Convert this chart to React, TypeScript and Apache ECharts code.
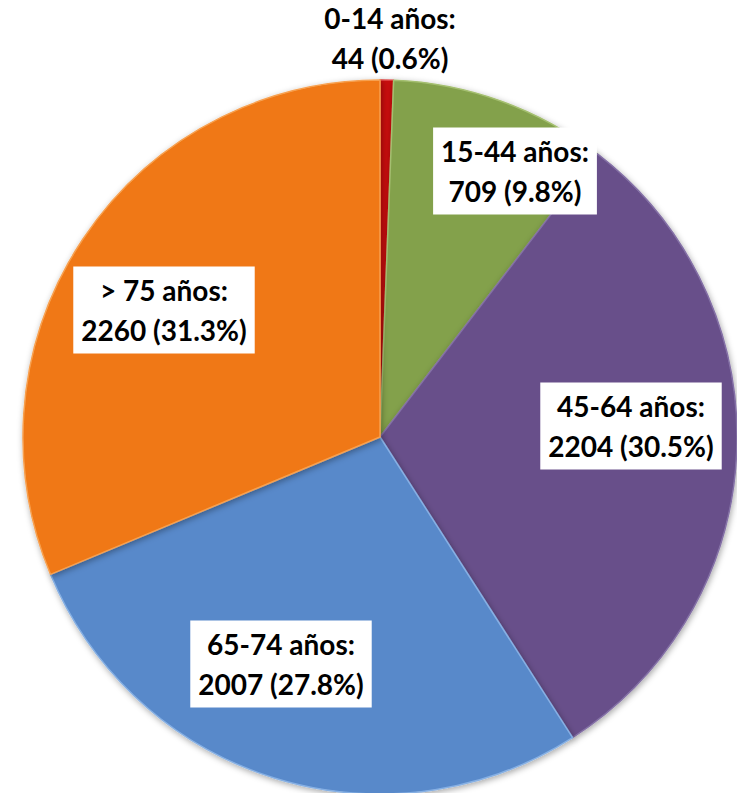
import React, { useEffect, useRef } from "react";
import * as echarts from "echarts";

// Defunciones por grupo de edad
const groups = ["0-14 años", "15-44 años", "45-64 años", "65-74 años", "> 75 años"];
const counts = [44, 709, 2204, 2007, 2260];
const percents = [0.6, 9.8, 30.5, 27.8, 31.3];
const sliceColors = ["#C80A0A", "#83A14B", "#68508A", "#5889CA", "#F07812"];
const edgeColors = ["#E04040", "#A4BF70", "#8470A6", "#86B0E4", "#F7A050"];

// Label anchor points (pixels) for each slice's callout box
const labelAnchors: [number, number][] = [
  [390, 38],
  [515, 171],
  [631, 426],
  [281, 664],
  [164, 310],
];

export default function App() {
  const ref = useRef<HTMLDivElement>(null);

  useEffect(() => {
    if (!ref.current) return;
    const chart = echarts.init(ref.current, null, { renderer: "svg" });
    const data = groups.map((name, i) => ({
      name,
      value: counts[i],
      itemStyle: {
        color: sliceColors[i],
        borderColor: edgeColors[i],
      },
      label: i === 0 ? { backgroundColor: "transparent" } : {},
    }));
    chart.setOption({
      animation: false,
      backgroundColor: "#ffffff",
      series: [
        {
          type: "pie",
          center: [380, 437],
          radius: 357,
          startAngle: 90,
          clockwise: true,
          avoidLabelOverlap: false,
          data,
          itemStyle: {
            borderWidth: 1.5,
            shadowColor: "rgba(0,0,0,0.35)",
            shadowBlur: 6,
            shadowOffsetX: 1,
            shadowOffsetY: 2,
          },
          label: {
            show: true,
            position: "inside",
            formatter: (p: any) =>
              `${groups[p.dataIndex]}:\n${counts[p.dataIndex]} (${percents[p.dataIndex]}%)`,
            fontFamily: "Lato, 'Open Sans', sans-serif",
            fontWeight: "bold",
            fontSize: 28,
            lineHeight: 40,
            color: "#000000",
            backgroundColor: "#ffffff",
            padding: [4, 8, 3, 8],
            align: "center",
          },
          labelLine: { show: false },
          labelLayout: (p: any) => ({
            x: labelAnchors[p.dataIndex][0],
            y: labelAnchors[p.dataIndex][1],
            align: "center",
            verticalAlign: "middle",
          }),
          emphasis: { disabled: true },
        },
      ],
    });
    return () => chart.dispose();
  }, []);

  return (
    <div
      ref={ref}
      style={{ position: "fixed", left: 0, top: 0, width: 737, height: 793 }}
    />
  );
}
